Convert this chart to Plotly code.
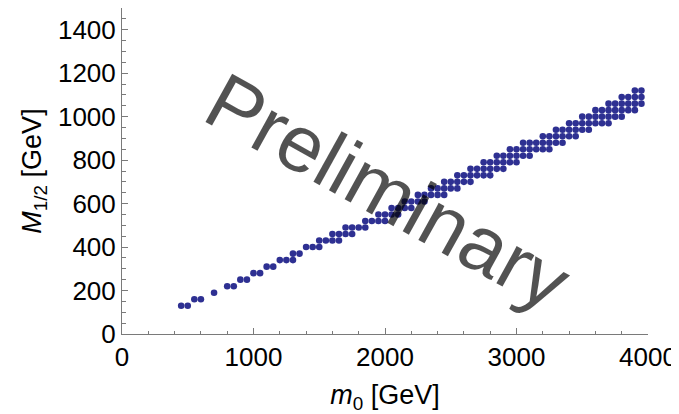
import plotly.graph_objects as go

# Scan grid: each row of constant M_1/2 lists first and last m0 point (scan step 50 GeV)
M_half_rows = [130, 160, 190, 220, 250, 280, 310, 340, 370, 400, 430, 460, 490,
               520, 550, 580, 610, 640, 670, 700, 730, 760, 790, 820, 850, 880,
               910, 940, 970, 1000, 1030, 1060, 1090, 1120]
m0_row_start = [450, 550, 700, 800, 900, 1000, 1100, 1200, 1300, 1400, 1500, 1600, 1700,
                1850, 1950, 2050, 2150, 2250, 2350, 2450, 2550, 2650, 2750, 2850, 2950, 3050,
                3200, 3300, 3400, 3500, 3600, 3700, 3800, 3900]
m0_row_end = [500, 600, 700, 850, 950, 1050, 1150, 1300, 1350, 1500, 1650, 1750, 1850,
              2000, 2100, 2200, 2300, 2450, 2550, 2650, 2800, 2900, 3000, 3100, 3250, 3350,
              3450, 3550, 3700, 3800, 3900, 3950, 3950, 3950]
m0_step = 50

x_ticks = [0, 1000, 2000, 3000, 4000]
y_ticks = [0, 200, 400, 600, 800, 1000, 1200, 1400]

xs, ys = [], []
for M, a, b in zip(M_half_rows, m0_row_start, m0_row_end):
    for m0 in range(a, b + 1, m0_step):
        xs.append(m0)
        ys.append(M)

axis_gray = "#7a7a7a"
font_family = "Liberation Sans, Arial, sans-serif"

fig = go.Figure()
fig.add_trace(go.Scatter(
    x=xs, y=ys, mode="markers",
    marker=dict(size=6.6, color="rgb(46,48,146)", line=dict(width=0)),
    hoverinfo="skip", showlegend=False,
))

fig.add_annotation(
    x=2020, y=655, xref="x", yref="y",
    text="Preliminary", showarrow=False, textangle=29,
    font=dict(family=font_family, size=80, color="rgba(0,0,0,0.68)"),
)

# the page body has an 8px margin, so the figure is sized to fit the window
fig.update_layout(
    width=671, height=406,
    margin=dict(l=114, r=31, t=0, b=80),
    paper_bgcolor="white", plot_bgcolor="white",
    font=dict(family=font_family, color="black"),
)
fig.update_xaxes(
    range=[0, 4000], tickvals=x_ticks, ticktext=[str(v) for v in x_ticks],
    automargin=False,
    showline=True, linecolor=axis_gray, linewidth=1,
    ticks="inside", ticklen=6, tickcolor=axis_gray, tickwidth=1,
    minor=dict(dtick=200, ticks="inside", ticklen=3.5, tickcolor=axis_gray, showgrid=False),
    showgrid=False, zeroline=False,
    tickfont=dict(size=26, color="black"),
    title=dict(text="<i>m</i><sub>0</sub> [GeV]", font=dict(size=27, color="black"), standoff=14),
)
fig.update_yaxes(
    range=[0, 1500], tickvals=y_ticks, ticktext=[str(v) for v in y_ticks],
    automargin=False,
    showline=True, linecolor=axis_gray, linewidth=1,
    ticks="inside", ticklen=6, tickcolor=axis_gray, tickwidth=1,
    minor=dict(dtick=50, ticks="inside", ticklen=3.5, tickcolor=axis_gray, showgrid=False),
    showgrid=False, zeroline=False,
    tickfont=dict(size=26, color="black"),
    title=dict(text="<i>M</i><sub>1/2</sub> [GeV]", font=dict(size=27, color="black"), standoff=8),
)

fig.write_html("out.html")
